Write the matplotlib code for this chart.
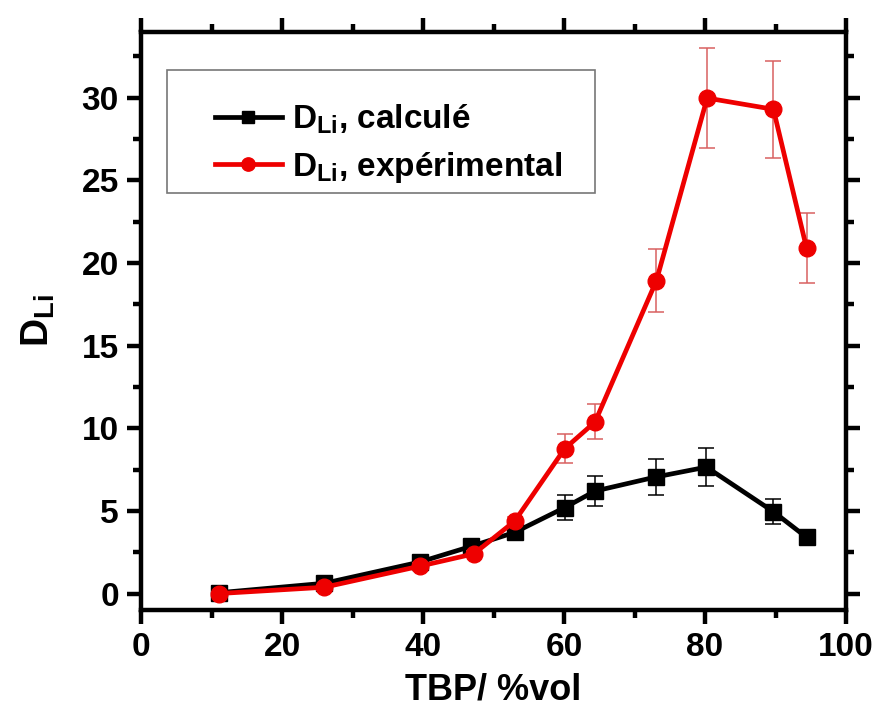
import matplotlib
matplotlib.use("Agg")
import matplotlib.pyplot as plt
from matplotlib.ticker import MultipleLocator
from matplotlib.patches import Rectangle

plt.rcParams['font.family'] = ['Liberation Sans', 'DejaVu Sans']
plt.rcParams['font.weight'] = 'bold'
plt.rcParams['mathtext.fontset'] = 'custom'
plt.rcParams['mathtext.rm'] = 'Liberation Sans:bold'
plt.rcParams['mathtext.bf'] = 'Liberation Sans:bold'
plt.rcParams['mathtext.it'] = 'Liberation Sans:bold'
plt.rcParams['mathtext.default'] = 'bf'

# Data
tbp_calc = [11.1, 26.0, 39.5, 46.8, 53.0, 60.1, 64.4, 73.0, 80.2, 89.7, 94.4]
d_calc = [0.05, 0.62, 1.9, 2.85, 3.7, 5.2, 6.2, 7.05, 7.65, 4.95, 3.4]
d_calc_err = [0.15, 0.2, 0.2, 0.2, 0.3, 0.78, 0.93, 1.08, 1.16, 0.76, 0.4]

tbp_exp = [11.1, 26.0, 39.5, 47.2, 53.0, 60.1, 64.4, 73.1, 80.3, 89.7, 94.4]
d_exp = [0.0, 0.38, 1.65, 2.4, 4.38, 8.77, 10.38, 18.93, 29.98, 29.3, 20.9]
d_exp_err = [0.1, 0.15, 0.2, 0.2, 0.25, 0.87, 1.06, 1.92, 3.03, 2.94, 2.12]

labels = [r"D$_{Li}$, calculé", r"D$_{Li}$, expérimental"]
x_ticks = [0, 20, 40, 60, 80, 100]
y_ticks = [0, 5, 10, 15, 20, 25, 30]

fig = plt.figure(figsize=(8.77, 7.11), dpi=100)
ax = fig.add_axes([0.1608, 0.142, 0.8039, 0.8135])

eb1 = ax.errorbar(tbp_calc, d_calc, yerr=d_calc_err, color='black', lw=3.4,
                  marker='s', ms=11.5, ecolor='black', elinewidth=1.1, capsize=5.5,
                  capthick=1.1, zorder=3)
eb2 = ax.errorbar(tbp_exp, d_exp, yerr=d_exp_err, color='#ee0000', lw=3.4,
                  marker='o', ms=12, ecolor='#d96060', elinewidth=1.1, capsize=5.5,
                  capthick=1.1, zorder=4)

ax.set_xlim(0, 100)
ax.set_ylim(-1, 34)
ax.set_xticks(x_ticks)
ax.set_yticks(y_ticks)
ax.xaxis.set_minor_locator(MultipleLocator(10))
ax.yaxis.set_minor_locator(MultipleLocator(2.5))

for s in ax.spines.values():
    s.set_linewidth(3.2)

ax.tick_params(which='both', direction='out', top=True, right=True, width=3.2)
ax.tick_params(which='major', length=10, labelsize=24, pad=6)
ax.tick_params(which='minor', length=6)
for lab in ax.get_xticklabels() + ax.get_yticklabels():
    lab.set_fontweight('bold')

ax.set_xlabel('TBP/ %vol', fontsize=26, fontweight='bold', labelpad=7)
ax.set_ylabel(r"D$_{Li}$", fontsize=28, fontweight='bold', labelpad=18)

# legend frame
ax.add_patch(Rectangle((0.0369, 0.7215), 0.6071, 0.2125, transform=ax.transAxes,
                       facecolor='white', edgecolor='#777777', lw=1.2, zorder=5))
leg = ax.legend(handles=[eb1[0], eb2[0]], labels=labels, loc='center left',
                bbox_to_anchor=(0.105, 0.806), fontsize=24, frameon=False,
                handlelength=2.0, handletextpad=0.3, borderpad=0,
                labelspacing=0.4, borderaxespad=0, markerscale=0.8)
leg.set_zorder(6)
for t in leg.get_texts():
    t.set_fontweight('bold')

fig.savefig('out.png', dpi=100)
